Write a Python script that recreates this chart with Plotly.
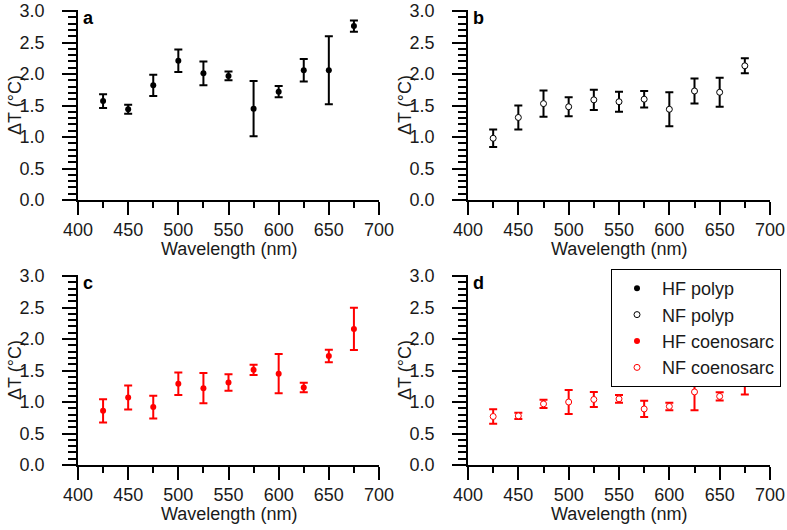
import plotly.graph_objects as go

wavelength = [425, 450, 475, 500, 525, 550, 575, 600, 625, 650, 675]

hf_polyp = [1.57, 1.44, 1.82, 2.21, 2.01, 1.97, 1.45, 1.72, 2.06, 2.06, 2.76]
hf_polyp_err = [0.11, 0.07, 0.17, 0.18, 0.19, 0.07, 0.44, 0.09, 0.18, 0.54, 0.09]

nf_polyp = [0.98, 1.31, 1.53, 1.48, 1.59, 1.56, 1.60, 1.44, 1.73, 1.71, 2.13]
nf_polyp_err = [0.14, 0.19, 0.21, 0.15, 0.16, 0.16, 0.13, 0.27, 0.20, 0.23, 0.12]

hf_coen = [0.86, 1.07, 0.92, 1.29, 1.22, 1.31, 1.51, 1.45, 1.23, 1.73, 2.16]
hf_coen_err = [0.185, 0.19, 0.18, 0.18, 0.24, 0.13, 0.08, 0.31, 0.075, 0.10, 0.335]

nf_coen = [0.77, 0.78, 0.97, 1.00, 1.04, 1.05, 0.89, 0.93, 1.16, 1.09, 1.29]
nf_coen_err = [0.115, 0.05, 0.065, 0.19, 0.12, 0.06, 0.13, 0.06, 0.29, 0.065, 0.17]

series_names = ["HF polyp", "NF polyp", "HF coenosarc", "NF coenosarc"]
panel_labels = ["a", "b", "c", "d"]
x_title = "Wavelength (nm)"
y_title = "ΔT (°C)"

W, H = 787, 530
FONT = "Liberation Sans, Arial, sans-serif"
FS = 18
TXT = "#1a1a1a"

fig = go.Figure()

def marker_style(color, filled):
    if filled:
        return dict(symbol="circle", size=6, color=color, line=dict(width=0))
    return dict(symbol="circle", size=6, color="white", line=dict(width=1, color=color))

series = [
    (hf_polyp, hf_polyp_err, "black", True),
    (nf_polyp, nf_polyp_err, "black", False),
    (hf_coen, hf_coen_err, "red", True),
    (nf_coen, nf_coen_err, "red", False),
]

for i, (vals, errs, col, filled) in enumerate(series):
    ax = "" if i == 0 else str(i + 1)
    fig.add_trace(go.Scatter(
        x=wavelength, y=vals, mode="markers",
        marker=marker_style(col, filled),
        error_y=dict(type="data", array=errs, visible=True, color=col, thickness=2, width=4),
        xaxis="x" + ax, yaxis="y" + ax, showlegend=False, name=series_names[i],
    ))

# legend-only traces (in panel d)
for i, (vals, errs, col, filled) in enumerate(series):
    fig.add_trace(go.Scatter(
        x=[None], y=[None], mode="markers", marker=marker_style(col, filled),
        name=series_names[i], xaxis="x4", yaxis="y4", showlegend=True,
    ))

# panel geometry in pixels: (left, right, top, bottom)
panels = [
    (78, 379, 10, 200),
    (468, 770, 10, 200),
    (78, 379, 275, 465),
    (468, 770, 275, 465),
]

layout = dict(
    width=W, height=H,
    margin=dict(l=0, r=0, t=0, b=0, autoexpand=False),
    paper_bgcolor="white", plot_bgcolor="white",
    font=dict(family=FONT, color=TXT, size=FS),
    legend=dict(
        x=611 / W, y=1 - 269 / H, xanchor="left", yanchor="top",
        bordercolor="black", borderwidth=1, bgcolor="white",
        font=dict(size=FS, family=FONT, color=TXT),
        tracegroupgap=0, itemwidth=40,
    ),
)

annotations = []
for i, (l, r, t, b) in enumerate(panels):
    ax = "" if i == 0 else str(i + 1)
    ymax = 3.0 * (b - t) / 189.0
    layout["xaxis" + ax] = dict(
        domain=[l / W, r / W], anchor="y" + ax, range=[400, 700],
        showline=True, linecolor="black", linewidth=1.5, mirror=False,
        showgrid=False, zeroline=False, automargin=False,
        ticks="outside", ticklen=13, tickwidth=1.5, tickcolor="black",
        dtick=50, tick0=400, ticklabelstandoff=0,
        minor=dict(dtick=25, tick0=400, ticks="outside", ticklen=6, tickwidth=1.5, tickcolor="black"),
        tickfont=dict(size=FS),
    )
    layout["yaxis" + ax] = dict(
        domain=[1 - b / H, 1 - t / H], anchor="x" + ax, range=[0, ymax],
        showline=True, linecolor="black", linewidth=1.5, mirror=False,
        showgrid=False, zeroline=False, automargin=False,
        ticks="outside", ticklen=14, tickwidth=1.5, tickcolor="black",
        dtick=0.5, tick0=0, tickformat=".1f", ticklabelstandoff=14,
        minor=dict(dtick=0.1, tick0=0, ticks="outside", ticklen=8, tickwidth=1.5, tickcolor="black"),
        tickfont=dict(size=FS),
    )
    annotations.append(dict(
        text="<b>%s</b>" % panel_labels[i], x=(l + 3) / W, y=1 - (t + 8) / H,
        xref="paper", yref="paper", xanchor="left", yanchor="middle",
        showarrow=False, font=dict(size=18, family=FONT, color="black"),
    ))
    # x-axis title
    annotations.append(dict(
        text=x_title, x=(l + r) / 2 / W, y=1 - (b + 49) / H,
        xref="paper", yref="paper", xanchor="center", yanchor="middle",
        showarrow=False, font=dict(size=FS, family=FONT, color=TXT),
    ))
    # y-axis title
    annotations.append(dict(
        text=y_title, x=(l - 63) / W, y=1 - (t + b) / 2 / H,
        xref="paper", yref="paper", xanchor="center", yanchor="middle",
        textangle=-90, showarrow=False, font=dict(size=18, family=FONT, color=TXT),
    ))

layout["annotations"] = annotations
fig.update_layout(**layout)
fig.write_html(
    "out.html",
    config={"displayModeBar": False},
    post_script="document.body.style.margin='0';document.body.style.padding='0';document.body.style.overflow='hidden';",
)
